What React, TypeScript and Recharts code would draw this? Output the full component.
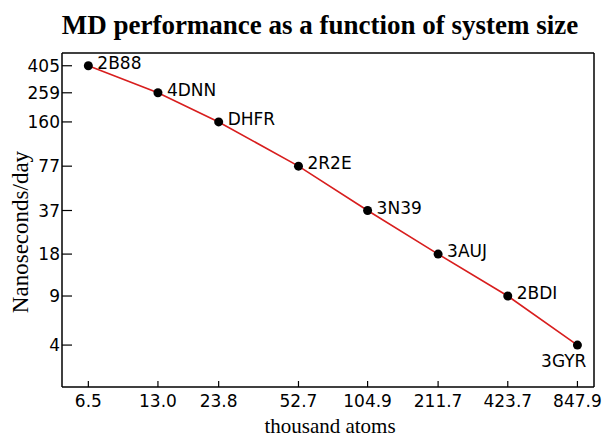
import React from 'react';
import { LineChart, Line, XAxis, YAxis, LabelList, Label } from 'recharts';

const systems = ['2B88', '4DNN', 'DHFR', '2R2E', '3N39', '3AUJ', '2BDI', '3GYR'];
const thousandAtoms = [6.5, 13.0, 23.8, 52.7, 104.9, 211.7, 423.7, 847.9];
const nsPerDay = [405, 259, 160, 77, 37, 18, 9, 4];
const xTicks = [6.5, 13.0, 23.8, 52.7, 104.9, 211.7, 423.7, 847.9];
const yTicks = [4, 9, 18, 37, 77, 160, 259, 405];

const data = systems.map((name, i) => ({ name, x: thousandAtoms[i], y: nsPerDay[i] }));

const tickStyle = { fill: '#000', fontSize: 17, fontFamily: 'DejaVu Sans' };
const lastIndex = systems.length - 1;

const PointLabel = (props: any) => {
  const { x, y, value, index } = props;
  if (index === lastIndex) {
    return (
      <text x={x + 9} y={y + 22} textAnchor="end" fontSize={17} fontFamily="DejaVu Sans" fill="#000">
        {value}
      </text>
    );
  }
  return (
    <text x={x + 9} y={y + 3} textAnchor="start" fontSize={17} fontFamily="DejaVu Sans" fill="#000">
      {value}
    </text>
  );
};

export default function App() {
  return (
    <div style={{ position: 'absolute', left: 0, top: 0, width: 607, height: 440, background: '#fff' }}>
      <svg
        width={607}
        height={50}
        style={{ position: 'absolute', left: 0, top: 0, pointerEvents: 'none' }}
      >
        <text x={320} y={34} textAnchor="middle" fontSize={27} fontWeight="bold" fontFamily="Liberation Serif" fill="#000">
          MD performance as a function of system size
        </text>
      </svg>
      <LineChart width={607} height={440} data={data} margin={{ top: 52, right: 12, bottom: 23, left: 0 }}>
        <XAxis
          dataKey="x"
          type="number"
          scale="log"
          domain={[5, 1000]}
          allowDataOverflow
          ticks={xTicks}
          tickFormatter={(v: number) => v.toFixed(1)}
          interval={0}
          height={30}
          tickSize={-6}
          tickMargin={14}
          tick={tickStyle}
          axisLine={{ stroke: '#000', strokeWidth: 1.5 }}
          tickLine={{ stroke: '#000', strokeWidth: 1.2 }}
        >
          <Label
            content={() => (
              <text x={330} y={433} textAnchor="middle" fontSize={21} fontFamily="Liberation Serif" fill="#000">
                thousand atoms
              </text>
            )}
          />
        </XAxis>
        <XAxis
          xAxisId="top"
          orientation="top"
          dataKey="x"
          type="number"
          scale="log"
          domain={[5, 1000]}
          allowDataOverflow
          height={1}
          tick={false}
          tickLine={false}
          axisLine={{ stroke: '#000', strokeWidth: 1.5 }}
        />
        <YAxis
          dataKey="y"
          type="number"
          scale="log"
          domain={[2, 500]}
          allowDataOverflow
          ticks={yTicks}
          interval={0}
          width={62}
          tickSize={-10}
          tickMargin={12}
          tick={tickStyle}
          axisLine={{ stroke: '#000', strokeWidth: 1.5 }}
          tickLine={{ stroke: '#000', strokeWidth: 1.2 }}
        >
          <Label
            content={() => (
              <text
                x={28}
                y={232}
                textAnchor="middle"
                fontSize={23}
                fontFamily="Liberation Serif"
                fill="#000"
                transform="rotate(-90, 28, 232)"
              >
                Nanoseconds/day
              </text>
            )}
          />
        </YAxis>
        <YAxis
          yAxisId="right"
          orientation="right"
          dataKey="y"
          type="number"
          scale="log"
          domain={[2, 500]}
          allowDataOverflow
          width={1}
          tick={false}
          tickLine={false}
          axisLine={{ stroke: '#000', strokeWidth: 1.5 }}
        />
        <Line
          dataKey="y"
          type="linear"
          stroke="#d81e1e"
          strokeWidth={1.6}
          dot={{ r: 4.5, fill: '#000', stroke: '#000', strokeWidth: 0 }}
          isAnimationActive={false}
        >
          <LabelList dataKey="name" content={PointLabel} />
        </Line>
      </LineChart>
    </div>
  );
}
